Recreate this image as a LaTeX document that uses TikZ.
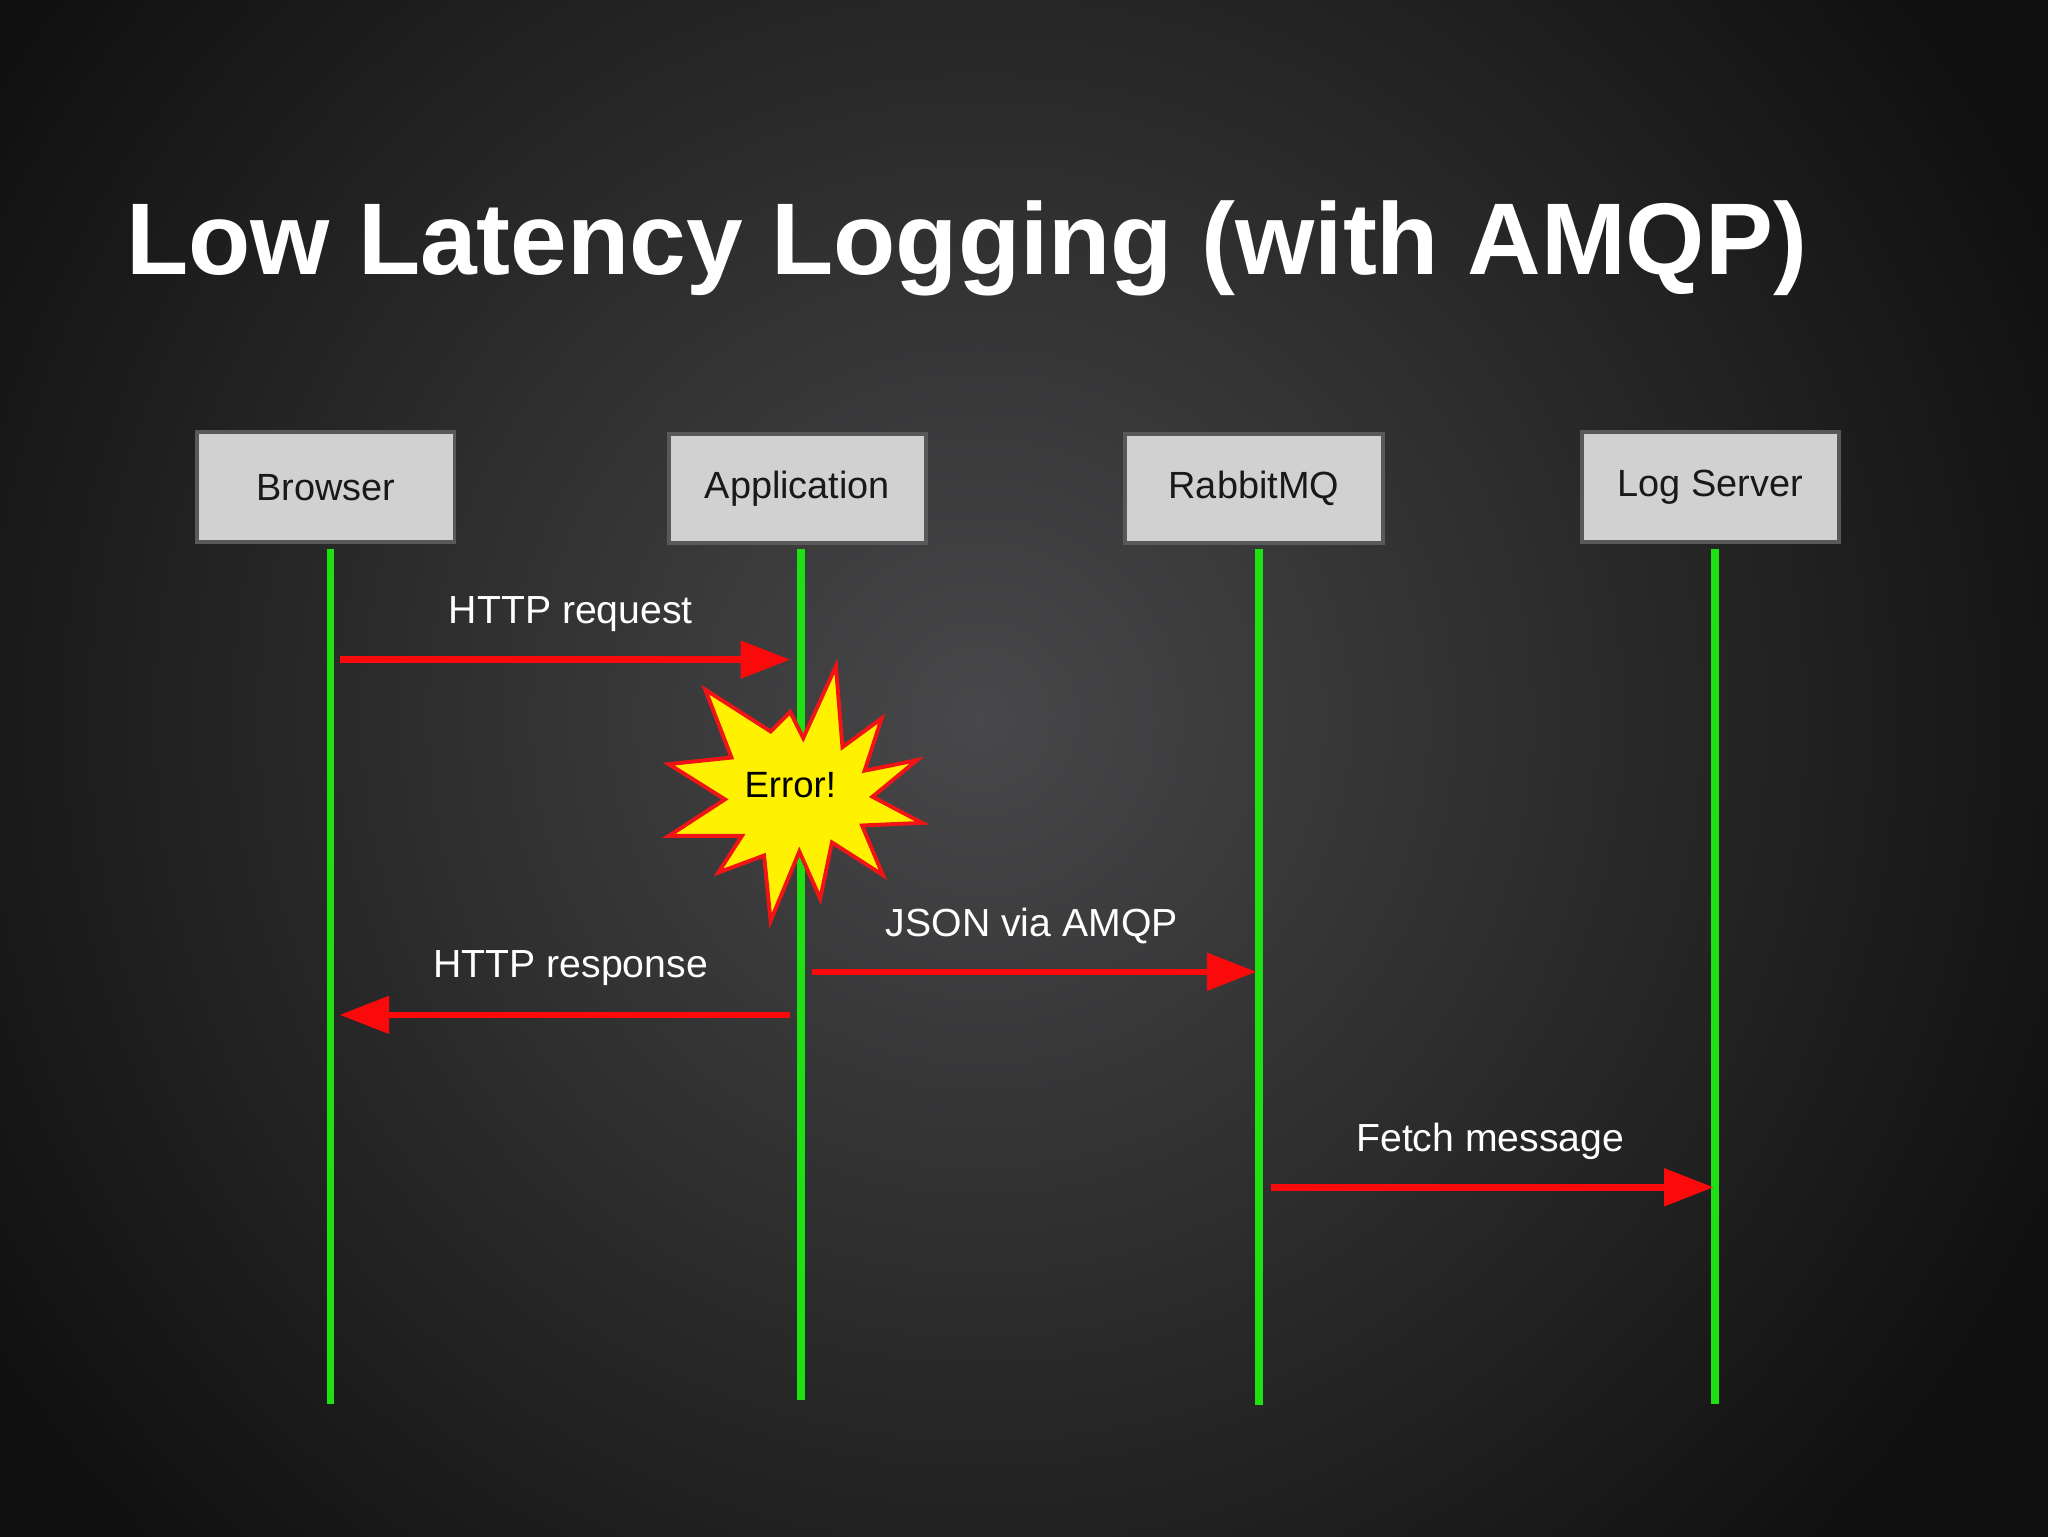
\documentclass[tikz,border=0pt]{standalone}
\usepackage{fontspec}
\setmainfont{Liberation Sans}
\usetikzlibrary{arrows.meta}
\begin{document}
\begin{tikzpicture}[x=1pt,y=-1pt,
  actor/.style={draw=black!65,line width=3pt,fill=black!18,minimum width=197pt,minimum height=84pt,font=\fontsize{29}{34}\selectfont,text=black!90},
  life/.style={draw={rgb,255:red,30;green,225;blue,20},line width=6pt},
  msg/.style={draw={rgb,255:red,250;green,10;blue,10},line width=5pt,-{Triangle[length=38pt,width=28pt]}},
  lbl/.style={text=white,font=\fontsize{30}{34}\selectfont}]
\definecolor{bgc}{RGB}{72,72,74}
\definecolor{bge}{RGB}{16,16,16}
\useasboundingbox (0,0) rectangle (1568,1176);
\begin{scope}
\clip (0,0) rectangle (1568,1176);
\shade[inner color=bgc,outer color=bge] (-150,-350) rectangle (1650,1450);
\end{scope}
\node[anchor=base west,text=white,font=\bfseries\fontsize{78}{90}\selectfont] (title) at (93,210) {Low Latency Logging (with AMQP)};
\node[actor] (b) at (249.5,373) {Browser};
\node[actor] (a) at (610.5,374) {Application};
\node[actor] (r) at (960,374) {RabbitMQ};
\node[actor] (l) at (1309.5,373) {Log Server};
\coordinate (b1) at (253,420); \coordinate (b2) at (253,1075);
\coordinate (a1) at (613,420); \coordinate (a2) at (613,1072);
\coordinate (r1) at (964,420); \coordinate (r2) at (964,1076);
\coordinate (l1) at (1313,420); \coordinate (l2) at (1313,1075);
\draw[life] (b1)--(b2); \draw[life] (a1)--(a2); \draw[life] (r1)--(r2); \draw[life] (l1)--(l2);
\draw[fill=yellow,draw={rgb,255:red,240;green,20;blue,20},line width=3pt]
 (640,510) -- (645,572) -- (675,550) -- (662,590) -- (702,582) -- (668,610) -- (706,630) -- (660,632) -- (676,670) -- (637,645) -- (628,688) -- (612,652) -- (590,705) -- (585,655) -- (550,668) -- (568,640) -- (512,640) -- (555,612) -- (512,585) -- (560,580) -- (540,528) -- (590,560) -- (605,545) -- (615,565) -- cycle;
\node[text=black,font=\fontsize{28}{32}\selectfont] (err) at (605,601) {Error!};
\coordinate (m1s) at (260,505); \coordinate (m1e) at (605,505);
\coordinate (m2s) at (605,777); \coordinate (m2e) at (260,777);
\coordinate (m3s) at (622,744); \coordinate (m3e) at (962,744);
\coordinate (m4s) at (973,909); \coordinate (m4e) at (1312,909);
\draw[msg] (m1s)--(m1e); \draw[msg] (m2s)--(m2e); \draw[msg] (m3s)--(m3e); \draw[msg] (m4s)--(m4e);
\node[lbl] (t1) at (437,470) {HTTP request};
\node[lbl] (t2) at (437,741) {HTTP response};
\node[lbl] (t3) at (790,709) {JSON via AMQP};
\node[lbl] (t4) at (1141,874) {Fetch message};
\end{tikzpicture}
\end{document}
